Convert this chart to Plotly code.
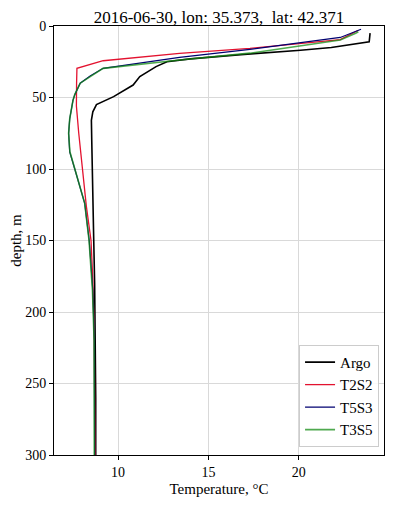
import plotly.graph_objects as go

# Argo profile
argo_depth = [5, 11, 15, 17, 20, 23, 25, 28.4, 35.4, 41.3, 49.4, 55, 60, 66, 80, 100, 120, 150, 180, 220, 260, 300]
argo_temp = [23.95, 23.9, 21.8, 20.1, 16.8, 14.0, 12.7, 12.1, 11.2, 10.83, 9.75, 8.8, 8.6, 8.52, 8.54, 8.56, 8.6, 8.65, 8.7, 8.75, 8.76, 8.76]

# T2S2 model
t2s2_depth = [3, 9.5, 15.6, 19.1, 24.3, 29.6, 40, 56, 75, 100, 126, 150, 178, 220, 260, 300]
t2s2_temp = [23.3, 22.3, 17.3, 13.4, 9.17, 7.72, 7.70, 7.69, 7.82, 8.03, 8.24, 8.5, 8.6, 8.68, 8.7, 8.72]

# T5S3 model
t5s3_depth = [2.3, 8, 16.3, 21.9, 29.6, 35, 40, 48, 52, 65, 75, 88, 100, 124, 150, 185, 220, 260, 300]
t5s3_temp = [23.45, 22.3, 17.3, 13.4, 9.17, 8.45, 7.9, 7.6, 7.5, 7.32, 7.26, 7.32, 7.6, 8.15, 8.4, 8.6, 8.68, 8.7, 8.7]

# T3S5 model
t3s5_depth = [4, 5.1, 9.8, 19, 23.8, 29.6, 35, 40, 48, 52, 65, 75, 88, 100, 124, 150, 185, 220, 260, 300]
t3s5_temp = [23.3, 23.15, 22.3, 17.3, 13.4, 9.17, 8.5, 7.9, 7.6, 7.5, 7.32, 7.26, 7.33, 7.6, 8.15, 8.39, 8.58, 8.67, 8.68, 8.68]

title_text = "2016-06-30, lon: 35.373, \u00a0lat: 42.371"
x_ticks = [10, 15, 20]
y_ticks = [0, 50, 100, 150, 200, 250, 300]

FONT = "Liberation Serif"

fig = go.Figure()
fig.add_trace(go.Scatter(x=argo_temp, y=argo_depth, mode="lines", name="Argo",
                         line=dict(color="black", width=1.6)))
fig.add_trace(go.Scatter(x=t2s2_temp, y=t2s2_depth, mode="lines", name="T2S2",
                         line=dict(color="#e3122f", width=1.3)))
fig.add_trace(go.Scatter(x=t5s3_temp, y=t5s3_depth, mode="lines", name="T5S3",
                         line=dict(color="#000070", width=1.2)))
fig.add_trace(go.Scatter(x=t3s5_temp, y=t3s5_depth, mode="lines", name="T3S5",
                         line=dict(color="rgba(20,140,20,0.75)", width=1.6)))

# the page body adds an 8px offset; compensate with figure size/margins
fig.update_layout(
    width=382, height=492,
    margin=dict(l=46, r=6, t=18, b=45, autoexpand=False),
    paper_bgcolor="white", plot_bgcolor="white",
    font=dict(family=FONT, size=15, color="black"),
    title=dict(text=title_text, x=0.5, xref="paper", xanchor="center", y=1, yanchor="top",
               yref="container", pad=dict(t=3), font=dict(family=FONT, size=17, color="black")),
    xaxis=dict(range=[6.45, 24.72], tickvals=x_ticks, showgrid=True, gridcolor="#d9d9d9",
               gridwidth=1, showline=True, linecolor="black", linewidth=1, mirror=True,
               ticks="outside", ticklen=4, tickcolor="black", zeroline=False, automargin=False,
               title=dict(text="Temperature, °C", standoff=4, font=dict(family=FONT, size=15)),
               tickfont=dict(family=FONT, size=14)),
    yaxis=dict(range=[300, 0], tickvals=y_ticks, showgrid=True, gridcolor="#d9d9d9",
               gridwidth=1, showline=True, linecolor="black", linewidth=1, mirror=True,
               ticks="outside", ticklen=4, tickcolor="black", zeroline=False, automargin=False,
               title=dict(text="depth, m", standoff=9, font=dict(family=FONT, size=15)),
               tickfont=dict(family=FONT, size=14)),
    legend=dict(x=0.985, y=0.019, xanchor="right", yanchor="bottom",
                bgcolor="rgba(255,255,255,0.85)", bordercolor="#cccccc", borderwidth=1,
                font=dict(family=FONT, size=15)),
)

fig.write_html("out.html")
